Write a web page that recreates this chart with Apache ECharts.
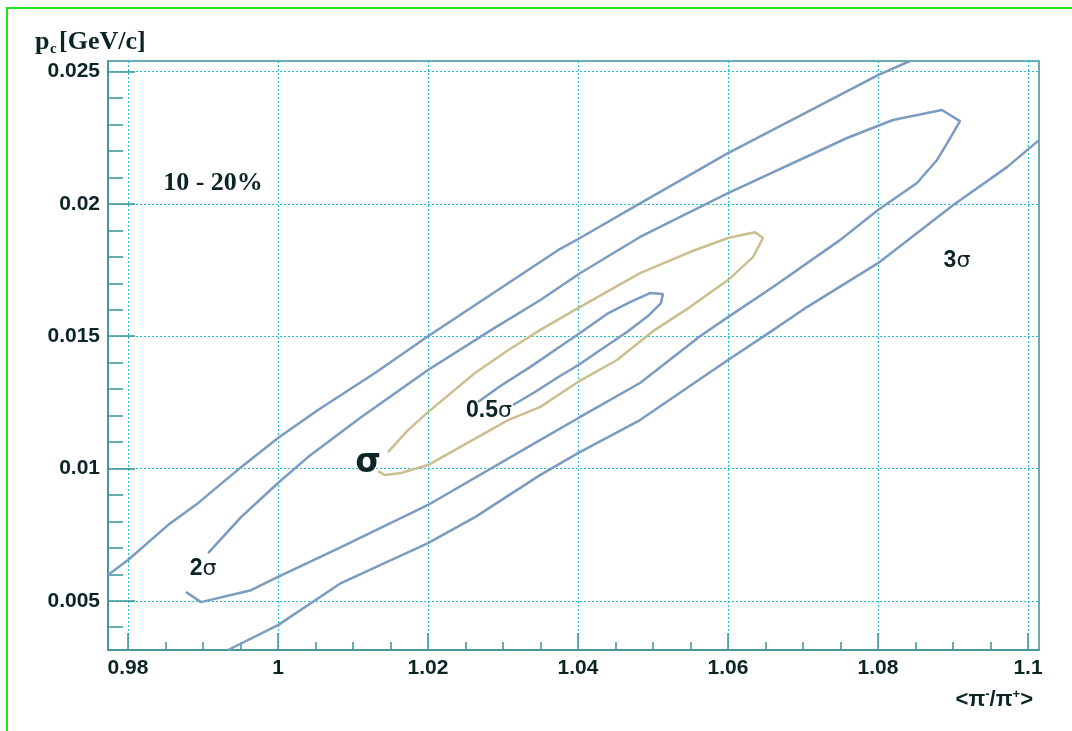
<!DOCTYPE html>
<html>
<head>
<meta charset="utf-8">
<script src="https://cdn.jsdelivr.net/npm/echarts@6/dist/echarts.min.js"></script>
<style>
  html, body { margin: 0; padding: 0; background: #fff; }
  #chart { width: 1072px; height: 731px; }
</style>
</head>
<body>
<div id="chart"></div>
<script>
// axis ranges and ticks
var xMin = 0.97733, xMax = 1.10147;
var yMin = 0.00314, yMax = 0.02540;
var xTicks = [0.98, 1.0, 1.02, 1.04, 1.06, 1.08, 1.1];
var xMinorTicks = [0.985, 0.99, 0.995, 1.005, 1.01, 1.015, 1.025, 1.03, 1.035,
                   1.045, 1.05, 1.055, 1.065, 1.07, 1.075, 1.085, 1.09, 1.095];
var yTicks = [0.005, 0.01, 0.015, 0.02, 0.025];
var yMinorTicks = [0.004, 0.006, 0.007, 0.008, 0.009, 0.011, 0.012, 0.013, 0.014,
                   0.016, 0.017, 0.018, 0.019, 0.021, 0.022, 0.023, 0.024];

// contour lines, [<pi-/pi+>, pc]
var sigma3Upper = [[0.97733, 0.00597], [0.98, 0.00654], [0.98533, 0.00786], [0.98933, 0.00869],
  [0.99507, 0.01005], [1.0, 0.01115], [1.00533, 0.01221], [1.01293, 0.01361], [1.02, 0.01500],
  [1.03733, 0.01825], [1.04027, 0.01871], [1.04787, 0.01995], [1.06, 0.02192], [1.07053, 0.02347],
  [1.08, 0.02487], [1.08427, 0.02540]];
var sigma3Lower = [[0.99333, 0.00314], [1.0, 0.00408], [1.0084, 0.00567], [1.02, 0.00718],
  [1.02627, 0.00816], [1.03493, 0.00975], [1.04, 0.01058], [1.04827, 0.01183], [1.06, 0.01410],
  [1.066, 0.01523], [1.07053, 0.01610], [1.08, 0.01776], [1.09, 0.01995], [1.0972, 0.02139],
  [1.10147, 0.02241]];
var sigma2 = [[0.99067, 0.00680], [0.99507, 0.00816], [1.0, 0.00945], [1.004, 0.01043],
  [1.01107, 0.01194], [1.02, 0.01372], [1.0284, 0.01523], [1.03493, 0.01636], [1.04027, 0.01738],
  [1.04827, 0.01875], [1.06, 0.02041], [1.07587, 0.02249], [1.082, 0.02317], [1.08853, 0.02355],
  [1.09093, 0.02313], [1.08933, 0.02234], [1.08787, 0.02166], [1.0852, 0.02079], [1.08, 0.01977],
  [1.07493, 0.01863], [1.066, 0.01686], [1.06, 0.01572], [1.05627, 0.01500], [1.04827, 0.01323],
  [1.04, 0.01190], [1.03493, 0.01107], [1.02, 0.00862], [1.0084, 0.00703], [1.0, 0.00590],
  [0.9964, 0.00540], [0.98973, 0.00495], [0.98773, 0.00533]];
var sigma1 = [[1.01467, 0.01062], [1.01733, 0.01145], [1.02, 0.01213], [1.02627, 0.01361],
  [1.03067, 0.01447], [1.03493, 0.01523], [1.04, 0.01606], [1.04827, 0.01738], [1.05493, 0.01818],
  [1.06, 0.01871], [1.0636, 0.01893], [1.06467, 0.01871], [1.06333, 0.01799], [1.06, 0.01712],
  [1.05493, 0.01610], [1.05, 0.01519], [1.0452, 0.01410], [1.04, 0.01327], [1.03493, 0.01232],
  [1.03067, 0.01183], [1.02, 0.01013], [1.0164, 0.00983], [1.01427, 0.00975], [1.01333, 0.00990]];
var sigmaHalf = [[1.02667, 0.01251], [1.0296, 0.01311], [1.0336, 0.01383], [1.03733, 0.01455],
  [1.04027, 0.01512], [1.04387, 0.01584], [1.04693, 0.01629], [1.0496, 0.01663], [1.05133, 0.01659],
  [1.05107, 0.01625], [1.04933, 0.01576], [1.04653, 0.01516], [1.04293, 0.01447], [1.04027, 0.01395],
  [1.03733, 0.01345], [1.03427, 0.01289], [1.03133, 0.01240]];

// text annotations
var noteTexts = ['10 - 20%', '3σ', '0.5σ', '2σ', 'σ'];
var noteX = [0.99133, 1.09053, 1.02813, 0.99, 1.012];
var noteY = [0.02079, 0.01784, 0.01217, 0.00620, 0.01020];

var blue = '#7b9bc1';
var tan = '#cbbf8f';
var frame = '#3a9396';
var grid = '#22c3cf';
var ink = '#0b2424';

window.onload = function () {
    var chart = echarts.init(document.getElementById('chart'));

    function contour(data, color) {
        return {
            type: 'line',
            data: data,
            symbol: 'none',
            smooth: false,
            silent: true,
            lineStyle: { color: color, width: 2.5 },
            z: 3
        };
    }

    var notes = noteTexts.map(function (t, i) {
        return { name: t, value: [noteX[i], noteY[i]] };
    });

    var option = {
        animation: false,
        backgroundColor: '#fff',
        grid: {
            left: 108, top: 61, right: 33, bottom: 81,
            show: true, borderColor: frame, borderWidth: 1.5
        },
        xAxis: [{
            type: 'value', min: xMin, max: xMax, position: 'bottom',
            axisLine: { show: true, lineStyle: { color: frame, width: 1.5 } },
            axisTick: { show: true, inside: true, length: 17, customValues: xTicks, lineStyle: { color: frame, width: 1.5 } },
            axisLabel: {
                customValues: xTicks, margin: 8,
                color: ink, fontSize: 21, fontWeight: 'bold', fontFamily: 'Liberation Sans'
            },
            splitLine: { show: true, lineStyle: { color: grid, width: 1, type: [2, 2] } }
        }, {
            type: 'value', min: xMin, max: xMax, position: 'bottom',
            axisLine: { show: false },
            axisTick: { show: true, inside: true, length: 8, customValues: xMinorTicks, lineStyle: { color: frame, width: 1.5 } },
            axisLabel: { show: false },
            splitLine: { show: false }
        }],
        yAxis: [{
            type: 'value', min: yMin, max: yMax, position: 'left',
            axisLine: { show: true, lineStyle: { color: frame, width: 1.5 } },
            axisTick: { show: true, inside: true, length: 27, customValues: yTicks, lineStyle: { color: frame, width: 1.5 } },
            axisLabel: {
                customValues: yTicks, margin: 8,
                color: ink, fontSize: 21, fontWeight: 'bold', fontFamily: 'Liberation Sans'
            },
            splitLine: { show: true, lineStyle: { color: grid, width: 1, type: [2, 2] } }
        }, {
            type: 'value', min: yMin, max: yMax, position: 'left',
            axisLine: { show: false },
            axisTick: { show: true, inside: true, length: 15, customValues: yMinorTicks, lineStyle: { color: frame, width: 1.5 } },
            axisLabel: { show: false },
            splitLine: { show: false }
        }],
        series: [
            contour(sigma3Upper, blue),
            contour(sigma3Lower, blue),
            contour(sigma2, blue),
            contour(sigma1, tan),
            contour(sigmaHalf, blue),
            {
                type: 'scatter',
                data: notes,
                symbolSize: 0,
                silent: true,
                z: 5,
                itemStyle: { opacity: 1 },
                label: {
                    show: true,
                    opacity: 1,
                    position: 'inside',
                    formatter: function (p) {
                        var t = p.name;
                        if (t === '10 - 20%') return '{t|' + t + '}';
                        if (t === 'σ') return '{big|σ}';
                        return '{n|' + t.slice(0, -1) + '}{s|σ}';
                    },
                    rich: {
                        t: { fontFamily: 'Liberation Serif', fontWeight: 'bold', fontSize: 26, color: ink },
                        n: { fontFamily: 'Liberation Sans', fontWeight: 'bold', fontSize: 23, color: ink },
                        s: { fontFamily: 'DejaVu Sans', fontSize: 22, color: ink },
                        big: { fontFamily: 'DejaVu Sans', fontWeight: 'bold', fontSize: 33, color: ink }
                    }
                }
            }
        ],
        graphic: [
            {
                type: 'rect', silent: true,
                shape: { x: 7, y: 8, width: 1080, height: 740 },
                style: { fill: null, stroke: '#1ee61e', lineWidth: 2 }
            },
            {
                type: 'text', x: 35, y: 42,
                style: { text: 'p', font: 'bold 26px "Liberation Serif"', fill: ink, verticalAlign: 'middle' }
            },
            {
                type: 'text', x: 50, y: 49,
                style: { text: 'c', font: 'bold 15px "Liberation Serif"', fill: ink, verticalAlign: 'middle' }
            },
            {
                type: 'text', x: 59, y: 42,
                style: { text: '[GeV/c]', font: 'bold 26px "Liberation Serif"', fill: ink, verticalAlign: 'middle' }
            },
            {
                type: 'text', x: 1033, y: 700,
                style: {
                    text: '{m|<π}{s|-}{m|/π}{s|+}{m|>}',
                    align: 'right', verticalAlign: 'middle',
                    rich: {
                        m: { font: 'bold 22px "Liberation Sans"', fill: ink, lineHeight: 24 },
                        s: { font: 'bold 13px "Liberation Sans"', fill: ink, verticalAlign: 'top', lineHeight: 24, padding: [0, 0, 10, 0] }
                    }
                }
            }
        ]
    };

    chart.setOption(option);
};
</script>
</body>
</html>
